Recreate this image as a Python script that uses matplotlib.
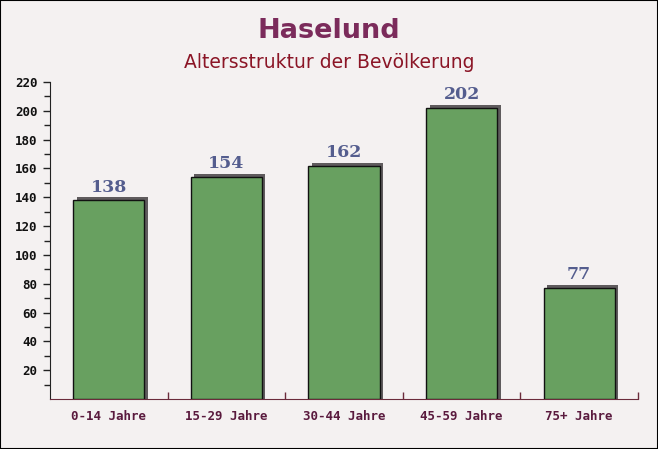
import matplotlib
matplotlib.use("Agg")
import matplotlib.pyplot as plt
import numpy as np

# data
categories = ["0-14 Jahre", "15-29 Jahre", "30-44 Jahre", "45-59 Jahre", "75+ Jahre"]
values = [138, 154, 162, 202, 77]
title = "Haselund"
subtitle = "Altersstruktur der Bevölkerung"

fig = plt.figure(figsize=(6.58, 4.49), dpi=100)
fig.patch.set_facecolor("#f4f1f1")
ax = fig.add_axes([50/658, 1 - 399/449, 588/658, (399 - 82)/449])
ax.set_facecolor("none")

x = np.arange(len(categories))
w = 0.605
# shadow (3d look), offset a few pixels right and up
dx = 3.5/117.6
dy = 3.0*220/317
ax.bar(x + dx, np.array(values) + dy, width=w, color="#5f5b5d", zorder=2)
ax.bar(x, values, width=w, color="#68a060", edgecolor="#111111", linewidth=1.0, zorder=3)

for xi, v in zip(x, values):
    ax.text(xi, v + 3.2, str(v), ha="center", va="bottom", fontsize=12.5,
            fontweight="bold", family="DejaVu Serif", color="#545d8e", zorder=4)

ax.set_xlim(-0.5, len(categories) - 0.5)
ax.set_ylim(0, 220)
ax.set_yticks(np.arange(20, 221, 20))
ax.set_yticks(np.arange(10, 221, 10), minor=True)
ax.tick_params(axis="y", which="both", direction="out", length=5, width=1, color="#222222",
               labelsize=9, labelcolor="#111111", pad=4)
ax.tick_params(axis="y", which="minor", length=4)
for lab in ax.get_yticklabels():
    lab.set_family("DejaVu Sans Mono")
    lab.set_fontweight("bold")

ax.set_xticks(x)
ax.set_xticklabels(categories, family="DejaVu Sans Mono", fontsize=9, fontweight="bold",
                   color="#5a1a3e")
ax.tick_params(axis="x", which="major", length=0, pad=8)
ax.set_xticks(x + 0.5, minor=True)
ax.tick_params(axis="x", which="minor", direction="in", length=5, color="#6b2b3b", width=1)

for s in ["top", "right"]:
    ax.spines[s].set_visible(False)
ax.spines["left"].set_color("#222222")
ax.spines["bottom"].set_color("#6b2b3b")

fig.text(0.5, 1 - 31/449, title, ha="center", va="center", fontsize=19.5,
         fontweight="bold", color="#7b2b5b")
fig.text(0.5, 1 - 63/449, subtitle, ha="center", va="center", fontsize=13.5,
         color="#8b1526")

# frame around the figure
fig.add_artist(plt.Rectangle((0, 0), 1, 1, transform=fig.transFigure, fill=False,
                             edgecolor="black", linewidth=1.5))

fig.savefig("out.png", dpi=100, facecolor=fig.get_facecolor())
